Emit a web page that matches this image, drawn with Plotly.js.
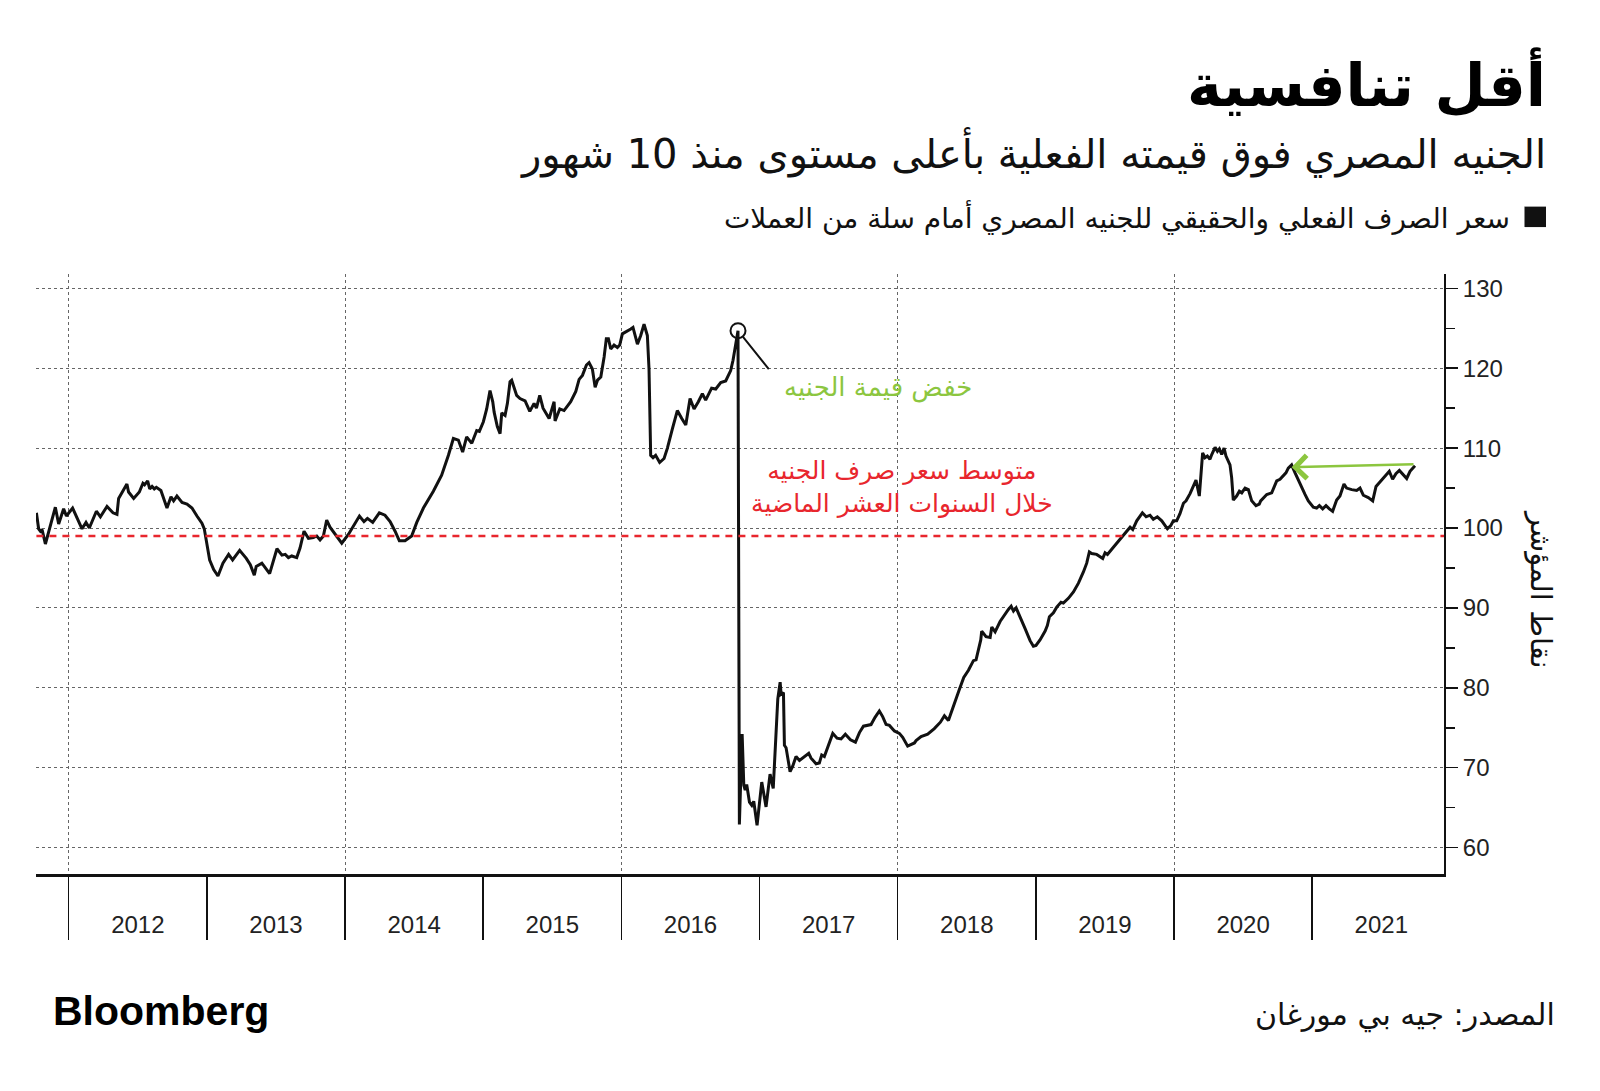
<!DOCTYPE html>
<html>
<head>
<meta charset="utf-8">
<script src="https://cdn.plot.ly/plotly-3.0.1.min.js"></script>
<style>
  html, body { margin: 0; padding: 0; background: #ffffff; }
  #chart { width: 1600px; height: 1091px; }
</style>
</head>
<body>
<div id="chart"></div>
<script>
// ---------------- DATA ----------------
// Time is given as decimal years; values are the index points.
const t2011 = [2011.766, 2011.782, 2011.795, 2011.807, 2011.831, 2011.862, 2011.903, 2011.927, 2011.963, 2011.983];
const v2011 = [101.9, 99.9, 99.6, 99.8, 98.0, 99.9, 102.6, 100.5, 102.4, 101.5];

const t2012 = [2012.000, 2012.028, 2012.096, 2012.125, 2012.149, 2012.200, 2012.229, 2012.277, 2012.320, 2012.349, 2012.361, 2012.421, 2012.433, 2012.470, 2012.511, 2012.537, 2012.549, 2012.571, 2012.586, 2012.603, 2012.619, 2012.634, 2012.667, 2012.711, 2012.740, 2012.759, 2012.783, 2012.820, 2012.856, 2012.892, 2012.928, 2012.964, 2012.981];
const v2012 = [101.9, 102.5, 99.9, 100.7, 100.0, 102.1, 101.4, 102.7, 101.9, 101.7, 103.7, 105.5, 104.5, 103.7, 104.5, 105.6, 105.4, 105.9, 104.9, 105.2, 104.9, 105.1, 104.7, 102.5, 103.9, 103.4, 104.0, 103.2, 103.0, 102.5, 101.5, 100.6, 99.9];

const t2013 = [2013.000, 2013.020, 2013.049, 2013.080, 2013.116, 2013.157, 2013.186, 2013.237, 2013.285, 2013.314, 2013.343, 2013.357, 2013.398, 2013.454, 2013.507, 2013.543, 2013.567, 2013.590, 2013.614, 2013.650, 2013.674, 2013.703, 2013.735, 2013.771, 2013.795, 2013.819, 2013.843, 2013.867, 2013.891, 2013.940, 2013.976];
const v2013 = [98.0, 96.0, 94.8, 94.0, 95.6, 96.7, 96.0, 97.2, 96.2, 95.4, 94.1, 95.2, 95.6, 94.3, 97.4, 96.6, 96.7, 96.3, 96.5, 96.3, 97.5, 99.6, 98.7, 98.8, 99.0, 98.5, 99.0, 101.0, 100.1, 99.0, 98.1];

const t2014 = [2014.024, 2014.072, 2014.104, 2014.137, 2014.162, 2014.200, 2014.248, 2014.289, 2014.326, 2014.362, 2014.393, 2014.434, 2014.482, 2014.519, 2014.567, 2014.639, 2014.699, 2014.748, 2014.784, 2014.820, 2014.851, 2014.880, 2014.917, 2014.953, 2014.972];
const v2014 = [99.2, 100.6, 101.5, 100.8, 101.2, 100.7, 101.9, 101.6, 100.8, 99.6, 98.4, 98.4, 99.0, 100.7, 102.5, 104.6, 106.6, 109.1, 111.2, 111.0, 109.5, 111.4, 110.6, 112.2, 112.1];

const t2015 = [2015.001, 2015.025, 2015.049, 2015.069, 2015.079, 2015.102, 2015.122, 2015.134, 2015.158, 2015.175, 2015.194, 2015.206, 2015.242, 2015.266, 2015.303, 2015.337, 2015.368, 2015.385, 2015.409, 2015.433, 2015.477, 2015.513, 2015.520, 2015.554, 2015.585, 2015.633, 2015.670, 2015.694, 2015.718, 2015.747, 2015.766, 2015.790, 2015.810, 2015.827, 2015.851, 2015.875, 2015.891, 2015.906, 2015.923, 2015.947, 2015.971, 2015.988];
const v2015 = [113.3, 114.9, 117.2, 115.8, 114.5, 112.7, 111.8, 114.4, 114.1, 115.6, 118.3, 118.5, 116.6, 116.2, 115.9, 114.6, 115.6, 115.0, 116.6, 115.0, 113.7, 115.8, 113.4, 114.9, 114.7, 115.8, 117.1, 118.6, 119.1, 120.4, 120.7, 119.9, 117.6, 118.5, 118.9, 121.4, 123.7, 123.7, 122.4, 122.9, 122.6, 122.9];

const t2016 = [2016.007, 2016.031, 2016.068, 2016.084, 2016.116, 2016.140, 2016.164, 2016.188, 2016.200, 2016.212, 2016.229, 2016.248, 2016.277, 2016.309, 2016.333, 2016.369, 2016.405, 2016.437, 2016.466, 2016.497, 2016.526, 2016.557, 2016.586, 2016.610, 2016.653, 2016.683, 2016.719, 2016.755, 2016.791, 2016.808, 2016.827, 2016.844, 2016.854, 2016.874, 2016.886, 2016.896, 2016.907, 2016.927, 2016.944, 2016.958, 2016.982];
const v2016 = [124.3, 124.5, 124.9, 125.1, 123.0, 124.1, 125.5, 124.1, 119.9, 109.1, 108.8, 109.1, 108.2, 108.7, 110.0, 112.4, 114.7, 113.7, 112.9, 116.2, 114.9, 115.8, 116.8, 116.0, 117.5, 117.4, 118.2, 118.4, 119.7, 121.0, 123.2, 124.7, 62.9, 74.2, 67.8, 67.2, 67.9, 65.7, 65.3, 65.8, 62.8];

const t2017 = [2017.016, 2017.047, 2017.076, 2017.099, 2017.132, 2017.149, 2017.156, 2017.173, 2017.180, 2017.192, 2017.221, 2017.240, 2017.264, 2017.289, 2017.325, 2017.356, 2017.373, 2017.409, 2017.433, 2017.450, 2017.469, 2017.506, 2017.530, 2017.561, 2017.590, 2017.621, 2017.658, 2017.694, 2017.723, 2017.752, 2017.783, 2017.807, 2017.836, 2017.867, 2017.891, 2017.916, 2017.940, 2017.976];
const v2017 = [68.2, 65.1, 69.2, 67.4, 78.6, 80.7, 79.2, 79.4, 72.8, 72.5, 69.5, 70.2, 71.4, 70.9, 71.4, 71.8, 71.2, 70.5, 70.6, 71.6, 71.4, 73.1, 74.3, 73.7, 73.6, 74.2, 73.5, 73.2, 74.4, 75.2, 75.3, 75.4, 76.3, 77.1, 76.4, 75.4, 75.3, 74.6];

const t2018 = [2018.012, 2018.036, 2018.072, 2018.101, 2018.121, 2018.133, 2018.169, 2018.217, 2018.265, 2018.309, 2018.338, 2018.367, 2018.398, 2018.446, 2018.478, 2018.512, 2018.548, 2018.567, 2018.601, 2018.608, 2018.639, 2018.669, 2018.681, 2018.705, 2018.741, 2018.777, 2018.801, 2018.821, 2018.838, 2018.857, 2018.881, 2018.922, 2018.958, 2018.982];
const v2018 = [74.3, 73.8, 72.7, 73.0, 73.1, 73.4, 73.9, 74.2, 74.9, 75.7, 76.5, 75.9, 77.5, 79.8, 81.3, 82.2, 83.4, 83.5, 86.0, 87.1, 86.4, 86.3, 87.6, 87.0, 88.3, 89.3, 89.8, 90.2, 89.6, 90.0, 89.1, 87.4, 85.9, 85.2];

const t2019 = [2019.001, 2019.030, 2019.067, 2019.083, 2019.098, 2019.127, 2019.151, 2019.182, 2019.199, 2019.235, 2019.272, 2019.308, 2019.344, 2019.368, 2019.387, 2019.404, 2019.440, 2019.464, 2019.484, 2019.501, 2019.518, 2019.561, 2019.609, 2019.658, 2019.682, 2019.701, 2019.730, 2019.771, 2019.798, 2019.826, 2019.850, 2019.879, 2019.911, 2019.952, 2019.976, 2019.995];
const v2019 = [85.3, 86.0, 87.1, 87.8, 88.9, 89.4, 90.1, 90.7, 90.6, 91.2, 92.0, 93.1, 94.5, 95.6, 97.0, 96.8, 96.7, 96.4, 96.2, 96.9, 96.7, 97.6, 98.6, 99.7, 100.1, 99.8, 100.9, 101.9, 101.4, 101.6, 101.1, 101.4, 100.9, 99.9, 100.3, 100.9];

const t2020 = [2020.019, 2020.043, 2020.068, 2020.087, 2020.116, 2020.159, 2020.183, 2020.207, 2020.224, 2020.241, 2020.260, 2020.273, 2020.297, 2020.314, 2020.328, 2020.345, 2020.362, 2020.376, 2020.405, 2020.417, 2020.429, 2020.453, 2020.473, 2020.490, 2020.514, 2020.538, 2020.562, 2020.593, 2020.617, 2020.627, 2020.651, 2020.671, 2020.707, 2020.743, 2020.767, 2020.791, 2020.810, 2020.827, 2020.851, 2020.876, 2020.912, 2020.948, 2020.972];
const v2020 = [100.9, 101.8, 103.1, 103.4, 104.3, 106.0, 104.0, 109.4, 108.8, 109.0, 108.6, 109.2, 110.1, 109.6, 109.9, 109.2, 110.0, 109.0, 107.9, 106.3, 103.5, 104.0, 104.6, 104.4, 105.0, 104.8, 103.4, 102.8, 103.0, 103.4, 103.8, 104.2, 104.4, 105.9, 106.1, 106.5, 106.9, 107.5, 107.9, 106.9, 105.5, 104.2, 103.4];

const t2021 = [2021.008, 2021.032, 2021.052, 2021.076, 2021.100, 2021.124, 2021.148, 2021.177, 2021.201, 2021.230, 2021.249, 2021.286, 2021.322, 2021.346, 2021.370, 2021.406, 2021.438, 2021.462, 2021.491, 2021.527, 2021.558, 2021.582, 2021.606, 2021.631, 2021.655, 2021.684, 2021.708, 2021.744];
const v2021 = [102.6, 102.5, 102.8, 102.4, 102.8, 102.4, 102.1, 103.5, 104.0, 105.5, 105.0, 104.8, 104.7, 105.0, 104.1, 103.8, 103.4, 105.2, 105.8, 106.5, 107.1, 106.1, 106.8, 107.2, 106.7, 106.2, 107.1, 107.8];

// 10-year average of the index (red dashed line)
const avg10y = [99.0];

// x-axis year categories
const yearStarts = [2012, 2013, 2014, 2015, 2016, 2017, 2018, 2019, 2020, 2021];
const yearLabels = ['2012', '2013', '2014', '2015', '2016', '2017', '2018', '2019', '2020', '2021'];

// texts
const TXT_TITLE = 'أقل تنافسية';
const TXT_SUB = 'الجنيه المصري فوق قيمته الفعلية بأعلى مستوى منذ 10 شهور';
const TXT_LEGEND = 'سعر الصرف الفعلي والحقيقي للجنيه المصري أمام سلة من العملات';
const TXT_YTITLE = 'نقاط المؤشر';
const TXT_DEVAL = 'خفض قيمة الجنيه';
const TXT_AVG = 'متوسط سعر صرف الجنيه<br>خلال السنوات العشر الماضية';
const TXT_SOURCE = 'المصدر: جيه بي مورغان';
const TXT_BRAND = 'Bloomberg';

// ---------------- BUILD ----------------
const xs = [].concat(t2011, t2012, t2013, t2014, t2015, t2016, t2017, t2018, t2019, t2020, t2021);
const ys = [].concat(v2011, v2012, v2013, v2014, v2015, v2016, v2017, v2018, v2019, v2020, v2021);
const last = xs.length - 1;

// devaluation point = the point just before the largest one-step fall
let iDrop = 0, bestFall = -Infinity;
for (let i = 0; i < ys.length - 1; i++) {
  const f = ys[i] - ys[i + 1];
  if (f > bestFall) { bestFall = f; iDrop = i; }
}
// late-2020 local high that the green arrow points back to
let iPk = -1;
for (let i = 0; i < xs.length; i++) {
  if (xs[i] > 2020.6 && xs[i] < 2021 && (iPk < 0 || ys[i] > ys[iPk])) iPk = i;
}

const AR = '"DejaVu Sans", "Noto Sans", sans-serif';
const LAT = '"Liberation Sans", Arial, sans-serif';
const GREEN = '#8cc63f';
const RED = '#e8262d';
const INK = '#111111';
const GRID = '#666666';

// plot-area pixel box and helpers for paper placement of page texts
const L = 36, R = 1444, T = 273.5, B = 874.5;
const px = x => (x - L) / (R - L);
const py = y => (B - y) / (B - T);

const X_RANGE = [2011.763, 2021.954];
const Y_RANGE = [56.7, 131.79];

const traces = [
  {
    type: 'scatter', mode: 'lines', x: xs, y: ys,
    xaxis: 'x', yaxis: 'y',
    line: { color: INK, width: 3 },
    hoverinfo: 'skip'
  },
  {
    type: 'scatter', mode: 'lines',
    x: [xs[0], X_RANGE[1]], y: [avg10y[0], avg10y[0]],
    xaxis: 'x2', yaxis: 'y',
    line: { color: RED, width: 2.5, dash: '7px,6px' },
    hoverinfo: 'skip'
  },
  {
    type: 'scatter', mode: 'markers',
    x: [xs[iDrop]], y: [ys[iDrop]],
    xaxis: 'x', yaxis: 'y',
    marker: { symbol: 'circle-open', size: 15, color: INK, line: { width: 2, color: INK } },
    hoverinfo: 'skip'
  }
];

const layout = {
  width: 1600, height: 1091,
  paper_bgcolor: '#ffffff', plot_bgcolor: '#ffffff',
  showlegend: false,
  margin: { l: L, r: 1600 - R, t: T, b: 1091 - B, pad: 0, autoexpand: false },
  font: { family: LAT, color: INK },
  xaxis: {
    type: 'linear', range: X_RANGE, fixedrange: true,
    tickmode: 'array', tickvals: yearStarts,
    ticks: 'outside', ticklen: 63, tickwidth: 1.5, tickcolor: INK,
    showticklabels: false, showgrid: false, zeroline: false,
    showline: true, linecolor: INK, linewidth: 2.5
  },
  xaxis2: {
    type: 'linear', range: X_RANGE, fixedrange: true,
    overlaying: 'x', anchor: 'y', side: 'bottom',
    tickmode: 'array', tickvals: yearStarts.map(v => v + 0.5), ticktext: yearLabels,
    ticks: '', showgrid: false, zeroline: false, showline: false,
    tickfont: { family: LAT, size: 24, color: '#222' },
    ticklabelstandoff: 34,
    minor: {
      tickmode: 'linear', tick0: 2012, dtick: 2, ticks: '',
      showgrid: true, gridcolor: GRID, griddash: '3px,3px', gridwidth: 1
    }
  },
  yaxis: {
    side: 'right', range: Y_RANGE, fixedrange: true,
    tickmode: 'linear', tick0: 0, dtick: 10,
    ticks: 'outside', ticklen: 12, tickwidth: 1.5, tickcolor: INK,
    showline: true, linecolor: INK, linewidth: 2,
    showgrid: true, gridcolor: GRID, griddash: '3px,3px', gridwidth: 1,
    zeroline: false,
    tickfont: { family: LAT, size: 24, color: '#222' },
    minor: { tickmode: 'linear', tick0: 0, dtick: 5, ticks: 'outside', ticklen: 9, tickwidth: 1.5, tickcolor: INK, showgrid: false }
  },
  shapes: [
    { type: 'rect', xref: 'paper', yref: 'paper', x0: px(1524.5), x1: px(1546), y0: py(226.5), y1: py(206),
      fillcolor: INK, line: { width: 0 } }
  ],
  annotations: [
    { xref: 'paper', yref: 'paper', x: px(1548), y: py(83), xanchor: 'right', yanchor: 'middle',
      text: '<b>' + TXT_TITLE + '</b>', showarrow: false, font: { family: AR, size: 59, color: '#000' } },
    { xref: 'paper', yref: 'paper', x: px(1548), y: py(152), xanchor: 'right', yanchor: 'middle',
      text: TXT_SUB, showarrow: false, font: { family: AR, size: 40, color: INK } },
    { xref: 'paper', yref: 'paper', x: px(1512), y: py(216), xanchor: 'right', yanchor: 'middle',
      text: TXT_LEGEND, showarrow: false, font: { family: AR, size: 28, color: INK } },
    { xref: 'paper', yref: 'paper', x: px(1541), y: py(589), xanchor: 'center', yanchor: 'middle',
      text: TXT_YTITLE, textangle: 90, showarrow: false, font: { family: AR, size: 29, color: INK } },
    { xref: 'x', yref: 'y', x: 2017.855, y: 117.64, xanchor: 'center', yanchor: 'middle',
      text: TXT_DEVAL, showarrow: false, font: { family: AR, size: 26, color: GREEN } },
    { xref: 'x', yref: 'y', x: 2018.032, y: 105.08, xanchor: 'center', yanchor: 'middle', align: 'center',
      text: TXT_AVG, showarrow: false, font: { family: AR, size: 25, color: RED } },
    { xref: 'x', yref: 'y', x: xs[iDrop], y: ys[iDrop], text: '', showarrow: true,
      arrowhead: 0, arrowwidth: 2, arrowcolor: INK, ax: 32, ay: 40, standoff: 8 },
    { xref: 'x', yref: 'y', x: xs[iPk], y: ys[iPk] - 0.3, axref: 'x', ayref: 'y', ax: xs[last], ay: ys[last] + 0.2,
      text: '', showarrow: true, arrowhead: 4, arrowsize: 1.8, arrowwidth: 2.5, arrowcolor: GREEN },
    { xref: 'paper', yref: 'paper', x: px(51), y: py(1012), xanchor: 'left', yanchor: 'middle',
      text: '<b>' + TXT_BRAND + '</b>', showarrow: false, font: { family: LAT, size: 41, color: '#000' } },
    { xref: 'paper', yref: 'paper', x: px(1557), y: py(1016), xanchor: 'right', yanchor: 'middle',
      text: TXT_SOURCE, showarrow: false, font: { family: AR, size: 30, color: INK } }
  ]
};

Plotly.newPlot('chart', traces, layout, { displayModeBar: false, staticPlot: true });
</script>
</body>
</html>
